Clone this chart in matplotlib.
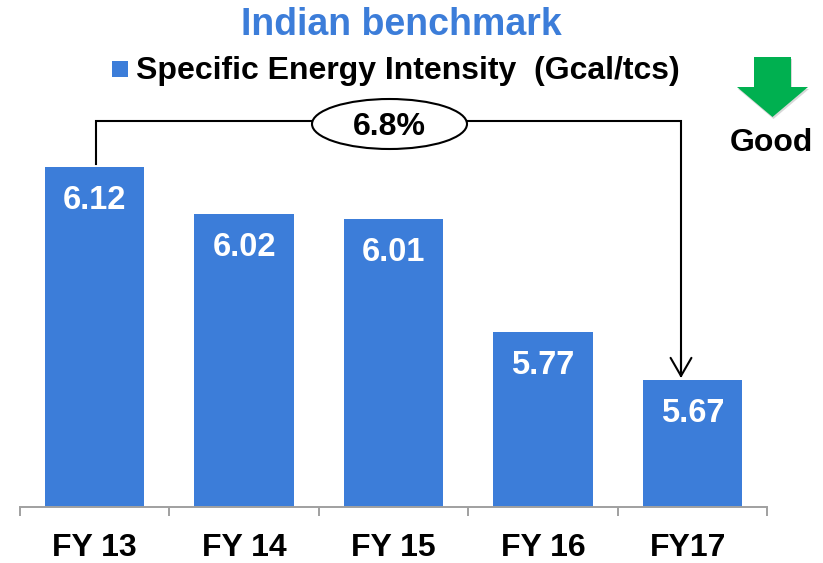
import matplotlib
matplotlib.use('Agg')
import matplotlib.pyplot as plt
import matplotlib.patches as mpatches

plt.rcParams['font.family'] = ['Liberation Sans', 'DejaVu Sans']

# Data
categories = ['FY 13', 'FY 14', 'FY 15', 'FY 16', 'FY17']
values = [6.12, 6.02, 6.01, 5.77, 5.67]
value_labels = ['6.12', '6.02', '6.01', '5.77', '5.67']
legend_label = 'Specific Energy Intensity  (Gcal/tcs)'
title = 'Indian benchmark'
change_label = '6.8%'
good_label = 'Good'

W, H = 823, 563
BLUE = '#3C7DD9'
GREY = '#A0A0A0'
GREEN = '#00B050'

fig = plt.figure(figsize=(W / 100, H / 100), dpi=100)
fig.patch.set_facecolor('white')

# Bar axes: bottom edge sits on the category line at y=507 px
ax = fig.add_axes([20 / W, (H - 507) / H, 747 / W, 507 / H])
ax.set_facecolor('none')
positions = list(range(len(categories)))
ax.bar(positions, values, width=0.665, color=BLUE, zorder=2)
ax.set_xlim(-0.5, 4.5)
ax.set_ylim(5.4, 5.4 + 507 / 472)

for pos, val, lab in zip(positions, values, value_labels):
    ax.annotate(lab, (pos, val), xytext=(0, -18), textcoords='offset pixels',
                ha='center', va='top', color='white', fontsize=23.5,
                fontweight='bold', zorder=3)

for side in ['top', 'left', 'right']:
    ax.spines[side].set_visible(False)
ax.spines['bottom'].set_color(GREY)
ax.spines['bottom'].set_linewidth(1.4)
ax.set_yticks([])
ax.set_xticks([p - 0.5 for p in positions] + [4.5])
ax.set_xticklabels([])
ax.tick_params(axis='x', length=6.5, width=1.4, color=GREY)
for pos, cat in zip(positions, categories):
    # last label sits a little left of its bar in the original
    shift = -4 if cat == 'FY17' else 0
    ax.annotate(cat, (pos, 5.4), xytext=(shift, -41), textcoords='offset pixels',
                ha='center', va='center', fontsize=23, fontweight='bold',
                color='black')

# Overlay in pixel coordinates for the callouts
ov = fig.add_axes([0, 0, 1, 1])
ov.set_xlim(0, W)
ov.set_ylim(H, 0)
ov.axis('off')
ov.patch.set_alpha(0)

ov.text(401.5, 25, title, ha='center', va='center', fontsize=27,
        fontweight='bold', color=BLUE)
ov.add_patch(mpatches.Rectangle((112, 61), 16, 16, facecolor=BLUE, edgecolor='none'))
ov.text(136, 71, legend_label, ha='left', va='center', fontsize=23,
        fontweight='bold', color='black')

# Bracket from first bar to last bar
ov.plot([96, 96, 681, 681], [164, 121, 121, 376], color='black', lw=1.5,
        solid_joinstyle='miter', zorder=3)
ov.annotate('', xy=(681, 378), xytext=(681, 350),
            arrowprops=dict(arrowstyle='->,head_length=1.3,head_width=0.75',
                            color='black', lw=1.5, shrinkA=0, shrinkB=0), zorder=3)
ov.add_patch(mpatches.Ellipse((389.5, 124), 155, 50, facecolor='white',
                              edgecolor='black', lw=1.5, zorder=4))
ov.text(389.5, 127, change_label, ha='center', va='center', fontsize=23,
        fontweight='bold', color='black', zorder=5)

# Green "good" arrow with a soft shadow
arrow_pts = [(754, 57), (791, 57), (791, 87), (808, 87), (772.5, 117), (737, 87), (754, 87)]
ov.add_patch(mpatches.Polygon([(x + 1, y + 2) for x, y in arrow_pts],
                              facecolor='#808080', alpha=0.3, edgecolor='none', zorder=2))
ov.add_patch(mpatches.Polygon(arrow_pts, facecolor=GREEN, edgecolor='none', zorder=3))
ov.text(771, 143, good_label, ha='center', va='center', fontsize=23,
        fontweight='bold', color='black')

fig.savefig('out.png', dpi=100, facecolor='white')
plt.close(fig)
